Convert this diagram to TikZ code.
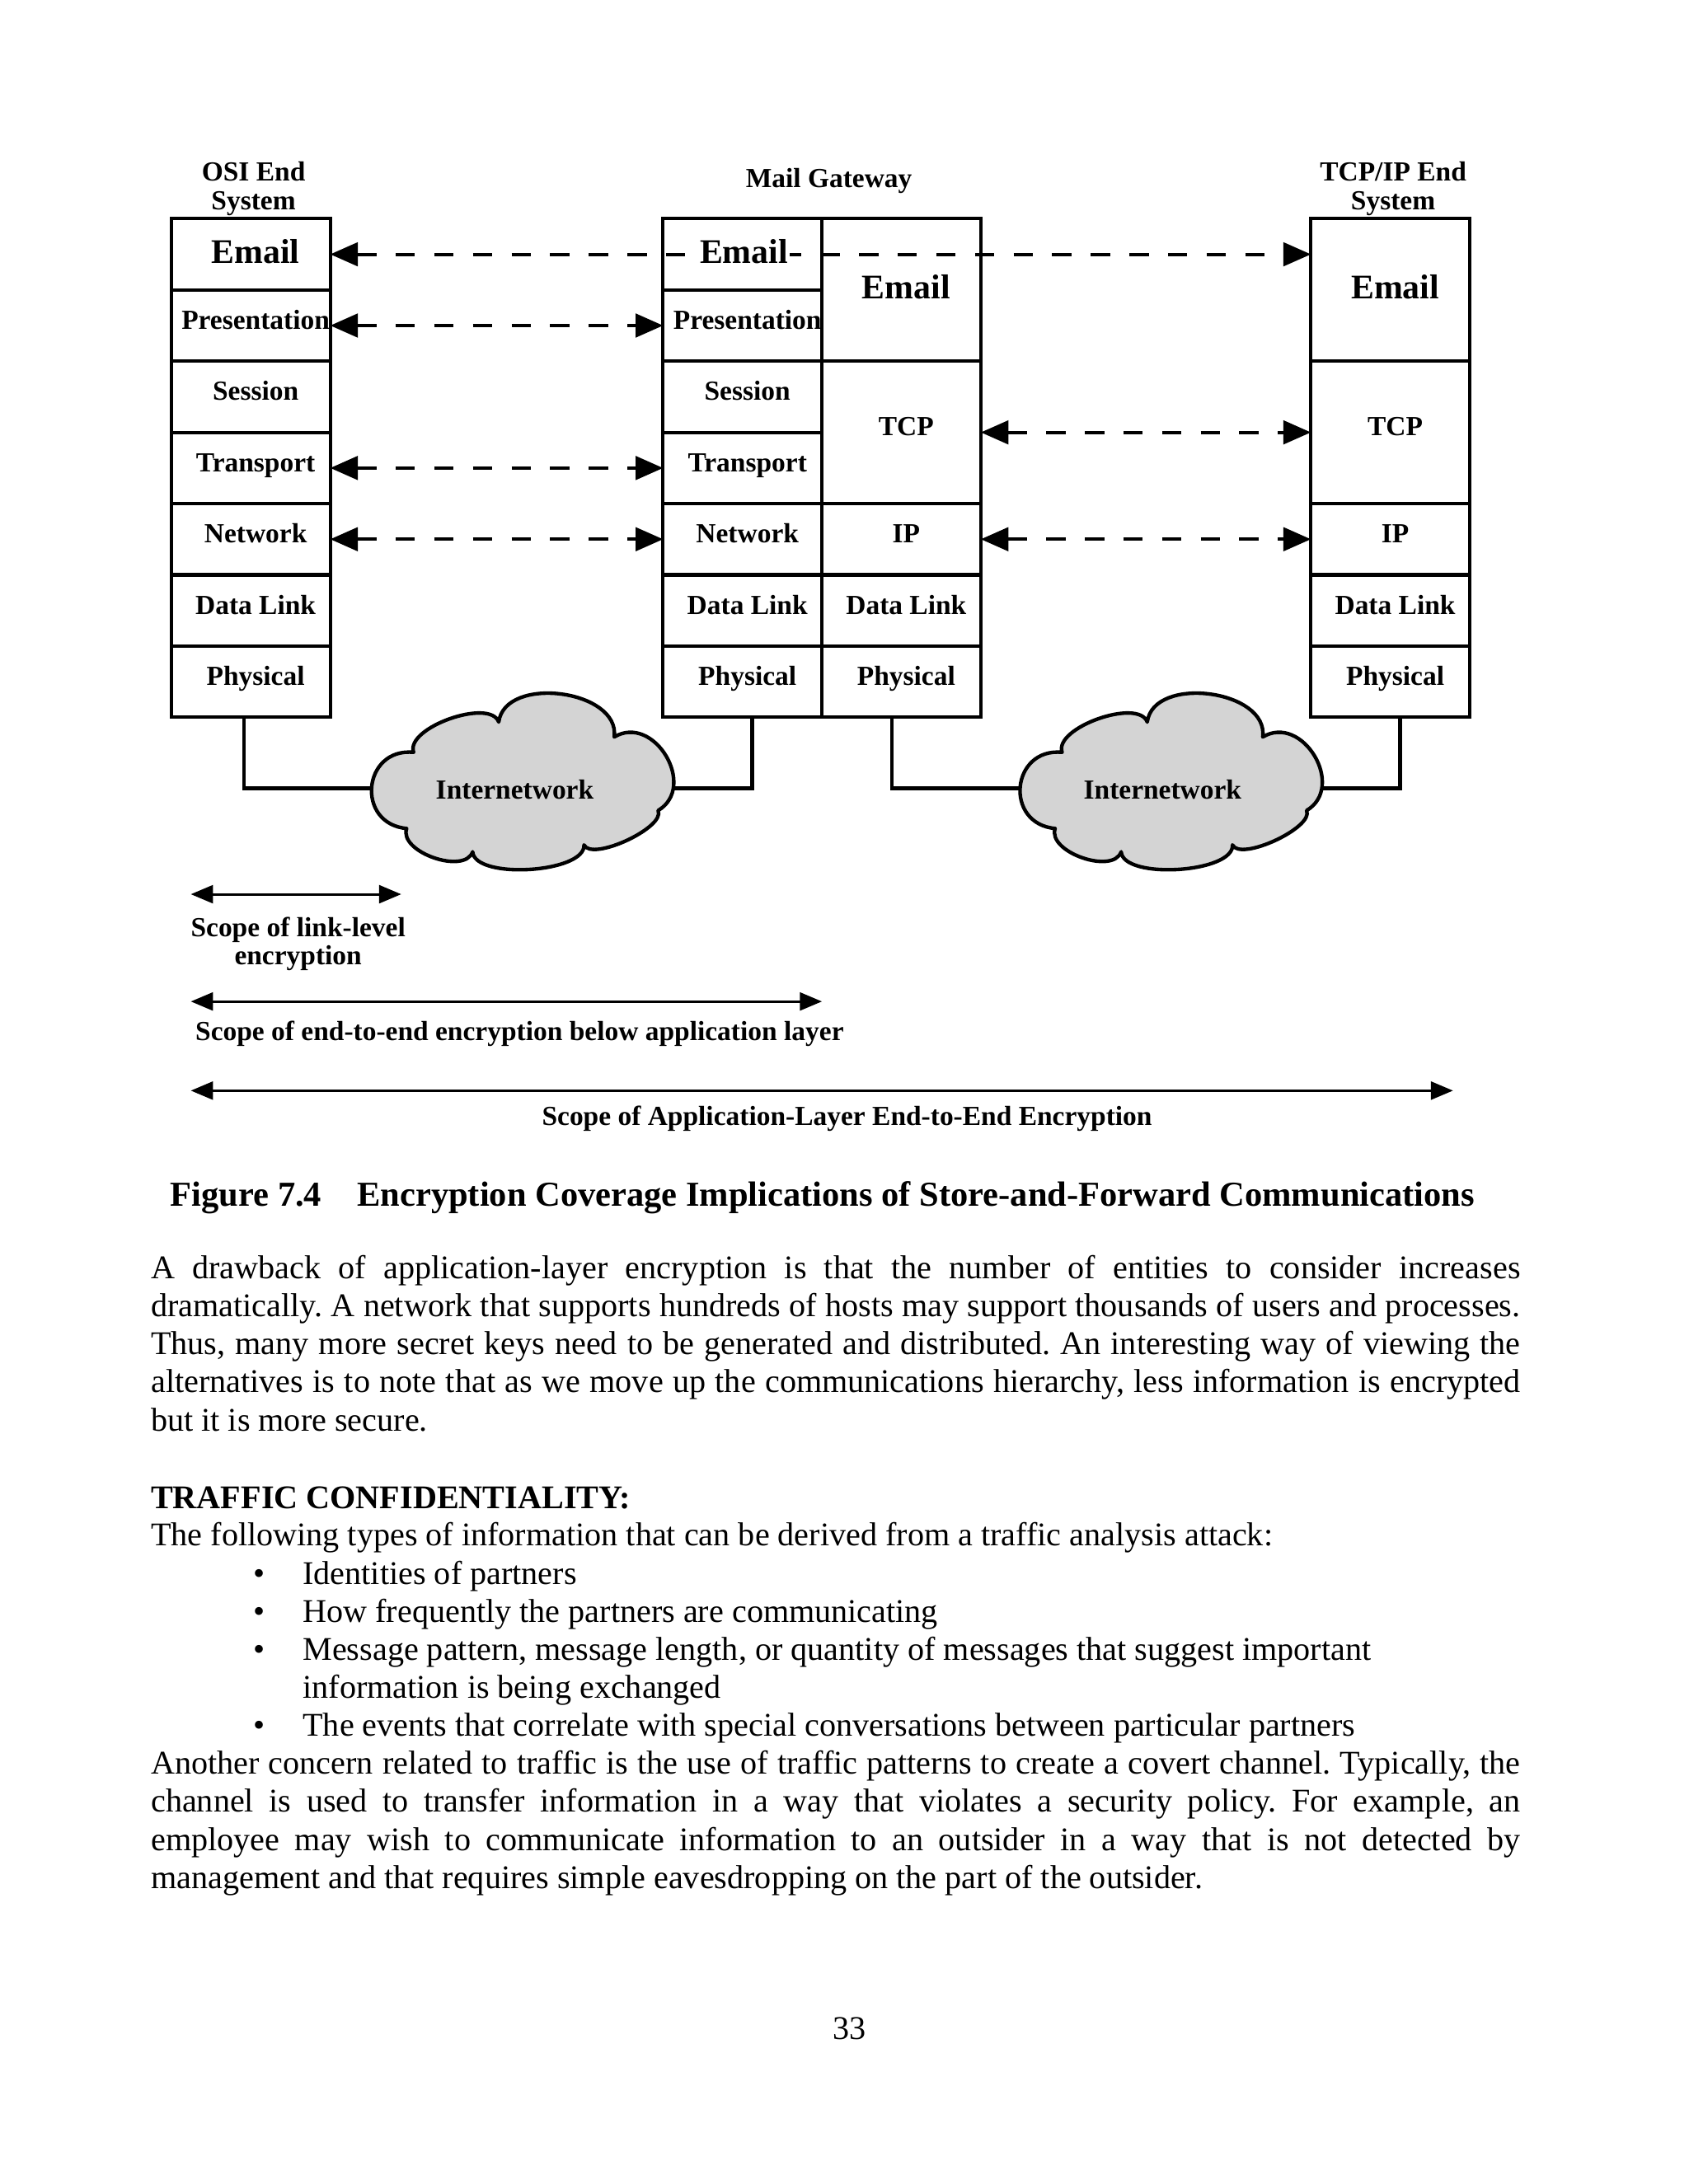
\documentclass[tikz,border=0pt]{standalone}
\usepackage{fontspec}
\setmainfont{Liberation Serif}
\usetikzlibrary{arrows.meta}
\pgfdeclarelayer{bg}
\pgfsetlayers{bg,main}
\newcommand\mylab{\fontsize{10}{10.2}\selectfont\bfseries}
\newcommand\myem{\fontsize{12.5}{13}\selectfont\bfseries}
\newcommand\mycap{\fontsize{12.7}{14}\selectfont\bfseries}
\newcommand\mybody{\fontsize{12}{13.8}\selectfont}
\newcommand\jline[1]{\makebox[496.4pt][s]{#1}}
\newcommand\cloudoutline{(291.9,594.8)
  .. controls (255.1,591.4) and (260.1,536.7) .. (296.9,540.1)
  .. controls (290.65,522.5) and (351.75,500.8) .. (358.0,518.4)
  .. controls (362.4,484.4) and (445.3,495.1) .. (440.9,529.1)
  .. controls (469.5,512.0) and (501.0,564.8) .. (472.4,581.9)
  .. controls (478.0,594.0) and (424.8,618.7) .. (419.2,606.6)
  .. controls (420.4,626.8) and (340.5,631.7) .. (339.3,611.5)
  .. controls (333.4,628.3) and (286.0,611.6) .. (291.9,594.8) -- cycle}
\frenchspacing
\begin{document}
\begin{tikzpicture}[x=0.505pt,y=-0.505pt,
  layer/.style={draw, line width=1.2pt, minimum width=57.6pt, minimum height=25.83pt,
    inner sep=0pt, outer sep=0pt, anchor=north west, font=\mylab,
    text height=6.8pt, text depth=4.2pt, execute at begin node={\hspace*{3.5pt}}},
  dlayer/.style={layer, minimum height=51.66pt},
  emlayer/.style={font=\myem, text height=9pt, text depth=2.4pt},
  dasharrow/.style={line width=1.2pt, dash pattern=on 7pt off 7pt,
    {Triangle[length=10pt,width=8.5pt]}-{Triangle[length=10pt,width=8.5pt]}},
  cloudshape/.style={draw, line width=1.3pt, fill=black!17, line join=round},
  link/.style={line width=1.3pt},
  scopeline/.style={line width=0.9pt,
    {Triangle[length=8pt,width=6.5pt]}-{Triangle[length=8pt,width=6.5pt]}},
  body/.style={anchor=base west, inner sep=0pt, font=\mybody},
  title/.style={font=\mylab, align=center, inner sep=0pt}
]
\useasboundingbox (0,0) rectangle (1212,1568);
\begin{pgfonlayer}{bg}
\fill[white] (0,0) rectangle (1212,1568);
\end{pgfonlayer}

% titles
\node[title] (tosi) at (182,135.5) {OSI End\\System};
\node[title] (tmail) at (595,130) {Mail Gateway};
\node[title] (ttcp) at (1000,135.5) {TCP/IP End\\System};

% OSI end system
\node[layer,emlayer] (l1) at (123,157) {Email};
\node[layer] (l2) at (123,208.14) {Presentation};
\node[layer] (l3) at (123,259.28) {Session};
\node[layer] (l4) at (123,310.42) {Transport};
\node[layer] (l5) at (123,361.56) {Network};
\node[layer] (l6) at (123,412.7) {Data Link};
\node[layer] (l7) at (123,463.84) {Physical};

% mail gateway, OSI side
\node[layer] (g1) at (476,157) {};
\node[layer] (g2) at (476,208.14) {Presentation};
\node[layer] (g3) at (476,259.28) {Session};
\node[layer] (g4) at (476,310.42) {Transport};
\node[layer] (g5) at (476,361.56) {Network};
\node[layer] (g6) at (476,412.7) {Data Link};
\node[layer] (g7) at (476,463.84) {Physical};

% mail gateway, TCP/IP side
\node[dlayer,emlayer] (h1) at (590,157) {Email};
\node[dlayer] (h2) at (590,259.28) {TCP};
\node[layer] (h3) at (590,361.56) {IP};
\node[layer] (h4) at (590,412.7) {Data Link};
\node[layer] (h5) at (590,463.84) {Physical};

% TCP/IP end system
\node[dlayer,emlayer] (r1) at (941,157) {Email};
\node[dlayer] (r2) at (941,259.28) {TCP};
\node[layer] (r3) at (941,361.56) {IP};
\node[layer] (r4) at (941,412.7) {Data Link};
\node[layer] (r5) at (941,463.84) {Physical};

% peer arrows
\draw[dasharrow] (l1.east) -- (l1.east -| r1.west);
\node[fill=white, inner sep=0.7pt, font=\myem, text height=9pt, text depth=2.4pt] (g1t) at ([xshift=0.5pt]g1.center) {Email};
\draw[dasharrow] (l2.east) -- (g2.west);
\draw[dasharrow] (l4.east) -- (g4.west);
\draw[dasharrow] (l5.east) -- (g5.west);
\draw[dasharrow] (h2.east) -- (r2.west);
\draw[dasharrow] (h3.east) -- (r3.west);

% clouds
\path[cloudshape] \cloudoutline;
\begin{scope}[shift={(465.5,0)}]
\path[cloudshape] \cloudoutline;
\end{scope}
\coordinate (c1) at (377,566);
\coordinate (c2) at (842.5,566);
\node[font=\mylab, inner sep=0pt] (i1) at (369.5,567) {Internetwork};
\node[font=\mylab, inner sep=0pt] (i2) at (834.5,567) {Internetwork};

\begin{pgfonlayer}{bg}
\draw[link] ([xshift=-2.5pt]l7.south) |- (c1);
\draw[link] (c1) -| ([xshift=3.5pt]g7.south);
\draw[link] ([xshift=-3.5pt]h5.south) |- (c2);
\draw[link] (c2) -| ([xshift=3.5pt]r5.south);
\end{pgfonlayer}

% scope arrows
\coordinate (s1a) at (137,642); \coordinate (s1b) at (288,642);
\coordinate (s2a) at (137,719); \coordinate (s2b) at (590,719);
\coordinate (s3a) at (137,783); \coordinate (s3b) at (1043,783);
\draw[scopeline] (s1a) -- (s1b);
\draw[scopeline] (s2a) -- (s2b);
\draw[scopeline] (s3a) -- (s3b);
\node[title] (sl1) at (214,677.5) {Scope of link-level\\encryption};
\node[title] (sl2) at (373,742) {Scope of end-to-end encryption below application layer};
\node[title] (sl3) at (608,803) {Scope of Application-Layer End-to-End Encryption};

% caption
\node[anchor=base west, inner sep=0pt, font=\mycap] (fig) at (122,866) {Figure 7.4};
\node[anchor=base west, inner sep=0pt, font=\mycap] (cap) at (256,866) {Encryption Coverage Implications of Store-and-Forward Communications};

% body text
\node[body] (p1) at (108,918) {\jline{A drawback of application-layer encryption is that the number of entities to consider increases}};
\node[body] (p2) at (108,945.3) {\jline{dramatically. A network that supports hundreds of hosts may support thousands of users and processes.}};
\node[body] (p3) at (108,972.6) {\jline{Thus, many more secret keys need to be generated and distributed. An interesting way of viewing the}};
\node[body] (p4) at (108,999.9) {\jline{alternatives is to note that as we move up the communications hierarchy, less information is encrypted}};
\node[body] (p5) at (108,1027.2) {but it is more secure.};

\node[body, font=\mybody\bfseries] (tc) at (108,1083) {TRAFFIC CONFIDENTIALITY:};
\node[body] (q0) at (108,1110) {The following types of information that can be derived from a traffic analysis attack:};
\node[body, anchor=base] (b1) at (186,1137.3) {•};
\node[body] (q1) at (217,1137.3) {Identities of partners};
\node[body, anchor=base] (b2) at (186,1164.6) {•};
\node[body] (q2) at (217,1164.6) {How frequently the partners are communicating};
\node[body, anchor=base] (b3) at (186,1191.9) {•};
\node[body] (q3) at (217,1191.9) {Message pattern, message length, or quantity of messages that suggest important};
\node[body] (q3b) at (217,1219.2) {information is being exchanged};
\node[body, anchor=base] (b4) at (186,1246.5) {•};
\node[body] (q4) at (217,1246.5) {The events that correlate with special conversations between particular partners};

\node[body] (a1) at (108,1273.8) {\jline{Another concern related to traffic is the use of traffic patterns to create a covert channel. Typically, the}};
\node[body] (a2) at (108,1301.1) {\jline{channel is used to transfer information in a way that violates a security policy. For example, an}};
\node[body] (a3) at (108,1328.4) {\jline{employee may wish to communicate information to an outsider in a way that is not detected by}};
\node[body] (a4) at (108,1355.7) {management and that requires simple eavesdropping on the part of the outsider.};

\node[body, anchor=base] (pg) at (610,1464) {33};
\end{tikzpicture}
\end{document}
